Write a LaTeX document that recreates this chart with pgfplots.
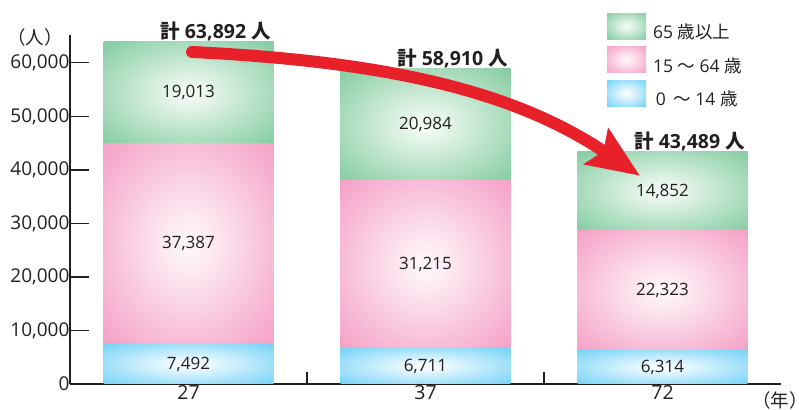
\documentclass[border=0pt]{standalone}
\usepackage{pgfplots}
\pgfplotsset{compat=1.18}
\usepackage{pgfplotstable}
\usepackage{fontspec}
\setmainfont{Open Sans}
\newfontfamily\cjk{Noto Sans CJK JP}
\usetikzlibrary{arrows.meta}
\definecolor{gOut}{HTML}{7BC89A}
\definecolor{gIn}{HTML}{F0F9F2}
\definecolor{pOut}{HTML}{F49AC2}
\definecolor{pIn}{HTML}{FEF3F8}
\definecolor{bOut}{HTML}{6ACFF6}
\definecolor{bIn}{HTML}{F6FCFF}
\definecolor{txt}{HTML}{231F20}
\definecolor{arrowred}{HTML}{E8202A}
\pgfdeclareradialshading{gshade}{\pgfpoint{0bp}{0bp}}{color(0bp)=(gIn); color(3bp)=(gIn); color(38bp)=(gOut); color(50bp)=(gOut)}
\pgfdeclareradialshading{pshade}{\pgfpoint{0bp}{0bp}}{color(0bp)=(pIn); color(3bp)=(pIn); color(38bp)=(pOut); color(50bp)=(pOut)}
\pgfdeclareradialshading{bshade}{\pgfpoint{0bp}{0bp}}{color(0bp)=(bIn); color(3bp)=(bIn); color(38bp)=(bOut); color(50bp)=(bOut)}

% one table per year group: 0-14, 15-64, 65+, total
\pgfplotstableread{
x young work old total
0 7492 37387 19013 63892
}\grpA
\pgfplotstableread{
x young work old total
1 6711 31215 20984 58910
}\grpB
\pgfplotstableread{
x young work old total
2 6314 22323 14852 43489
}\grpC

\pgfplotsset{
  myleg/.style={legend image code/.code={\path[##1] (0pt,-7pt) rectangle (39pt,19pt);}},
  segl/.style={
    nodes near coords={\pgfmathprintnumber{\pgfplotspointmeta}},
    point meta=explicit,
    every node near coord/.style={anchor=center, font=\fontsize{17}{21}\selectfont, text=txt}
  },
  frame/.style={
    at={(70pt,25pt)}, anchor=south west,
    scale only axis, width=711pt, height=349pt,
    xmin=-0.5, xmax=2.5, ymin=0, ymax=65200,
    enlargelimits=false, clip=false,
    /pgf/number format/1000 sep={,},
    /pgf/number format/assume math mode=true,
  },
  bars/.style={frame, ybar stacked, bar width=170pt, axis lines=none, ticks=none},
  young/.style={shade, shading=bshade, draw=none, segl, myleg},
  work/.style={shade, shading=pshade, draw=none, segl, myleg},
  old/.style={shade, shading=gshade, draw=none, segl, myleg},
}

\begin{document}
\begin{tikzpicture}
\useasboundingbox (0,0) rectangle (799pt,409pt);
% axes, ticks and labels
\begin{axis}[
  frame,
  axis x line=bottom, axis y line=left,
  axis line style={-, line width=1.3pt, draw=txt},
  every tick/.style={line width=1.3pt, draw=txt},
  tick align=inside,
  major tick length=19pt,
  xtick={0,1,2}, xticklabels={27,37,72},
  xtick style={draw=none},
  extra x ticks={0.5,1.5}, extra x tick labels={},
  extra x tick style={major tick length=12pt, xtick style={draw=txt}},
  ytick={0,10000,20000,30000,40000,50000,60000},
  yticklabels={0,{10,000},{20,000},{30,000},{40,000},{50,000},{60,000}},
  scaled y ticks=false,
  yticklabel style={font=\fontsize{19}{23}\selectfont, text=txt, xshift=3pt},
  xticklabel style={font=\fontsize{19.5}{24}\selectfont, text=txt, yshift=2pt},
  xlabel={\cjk （年）},
  xlabel style={at={(axis description cs:0.9985,-0.0458)}, anchor=center, font=\fontsize{18.5}{22}\selectfont, text=txt},
  ylabel={\cjk （人）},
  ylabel style={at={(axis description cs:-0.0492,0.9928)}, rotate=-90, anchor=center, font=\fontsize{18.5}{22}\selectfont, text=txt},
]
\end{axis}
% bars of year 27, with the legend
\begin{axis}[bars,
  legend style={at={(axis description cs:0.7553,1.063)}, anchor=north west, draw=none, fill=none,
    inner sep=0pt, outer sep=0pt, row sep=6.5pt, column sep=7pt,
    font=\fontsize{17.5}{21}\selectfont, text=txt, nodes={inner sep=0pt}},
  legend cell align=left,
  reverse legend,
]
\addplot[young] table[x=x, y=young, meta=young] {\grpA};
\addlegendentry{\,0 \,{\cjk ～} 14 {\cjk 歳}}
\addplot[work] table[x=x, y=work, meta=work] {\grpA};
\addlegendentry{15 {\cjk ～} 64 {\cjk 歳}}
\addplot[old] table[x=x, y=old, meta=old] {\grpA};
\addlegendentry{65 {\cjk 歳以上}}
\end{axis}
% bars of year 37
\begin{axis}[bars]
\addplot[young] table[x=x, y=young, meta=young] {\grpB};
\addplot[work] table[x=x, y=work, meta=work] {\grpB};
\addplot[old] table[x=x, y=old, meta=old] {\grpB};
\end{axis}
% bars of year 72
\begin{axis}[bars]
\addplot[young] table[x=x, y=young, meta=young] {\grpC};
\addplot[work] table[x=x, y=work, meta=work] {\grpC};
\addplot[old] table[x=x, y=old, meta=old] {\grpC};
\end{axis}
% totals and arrow
\begin{axis}[frame, axis lines=none, ticks=none,
  totl/.style={draw=none, mark=none,
    nodes near coords={\bfseries{\cjk 計} \pgfmathprintnumber{\pgfplotspointmeta} {\cjk 人}},
    point meta=explicit,
    every node near coord/.style={anchor=base, xshift=27pt, yshift=3pt, font=\fontsize{19.5}{23}\selectfont, text=txt}}]
\addplot[totl] table[x=x, y=total, meta=total] {\grpA};
\addplot[totl] table[x=x, y=total, meta=total] {\grpB};
\addplot[totl] table[x=x, y=total, meta=total] {\grpC};
\draw[arrowred, line width=12pt, line cap=round, -{Stealth[length=52pt, width=42pt, inset=8pt]}]
  (axis cs:0.015,62025) .. controls (axis cs:0.892,60155) and (axis cs:1.399,53991) .. (axis cs:1.905,38900);
\end{axis}
\end{tikzpicture}
\end{document}
